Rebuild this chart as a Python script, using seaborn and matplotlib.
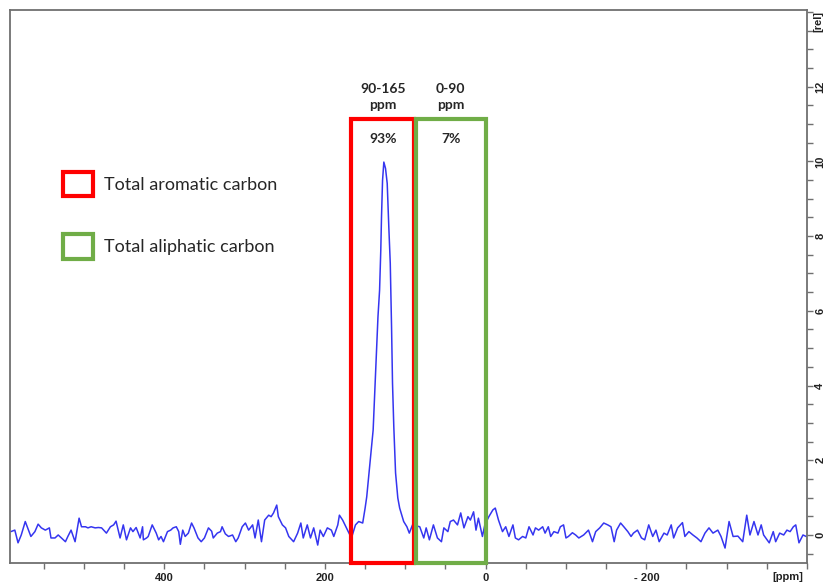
import numpy as np
import pandas as pd
import matplotlib
matplotlib.use('Agg')
import matplotlib.pyplot as plt
import seaborn as sns
from matplotlib.patches import Rectangle, Patch
from matplotlib.ticker import MultipleLocator

# 13C NMR spectrum (ppm, relative intensity)
ppm_left = [591, 586, 582, 578, 573, 569, 566, 561, 557, 553, 548, 543, 541, 536, 532, 528,
            523, 520, 516, 511, 506, 503, 498, 495, 491, 486, 482, 478, 472, 467, 463, 460,
            455, 451, 447, 442, 439, 435, 430, 427, 426, 422, 420, 415, 410, 407, 404, 401,
            396, 392, 389, 385, 382, 380, 377, 374, 370, 366, 363, 358, 354, 350, 345, 341,
            339, 334, 330, 328, 324, 320, 315, 311, 308, 303, 299, 295, 290, 287, 283, 279,
            275, 270, 267, 264, 260, 258, 253, 249, 245, 239, 234, 230, 227, 222, 218, 214,
            209, 206, 202, 197, 192, 189, 184, 182, 178, 174, 171, 167, 162, 158, 153]
int_left = [0.09, 0.13, -0.21, 0.00, 0.36, 0.13, -0.04, 0.09, 0.29, 0.19, 0.13, 0.19, -0.08, -0.08, 0.00, -0.08,
            -0.18, -0.04, 0.13, -0.18, 0.45, 0.22, 0.22, 0.19, 0.22, 0.19, 0.20, 0.19, 0.05, 0.22, 0.27, 0.37,
            -0.08, 0.27, -0.13, 0.19, 0.09, 0.20, -0.08, 0.22, -0.13, -0.08, -0.04, 0.27, 0.05, -0.13, -0.04, -0.18,
            0.09, 0.13, 0.19, 0.22, 0.09, -0.25, 0.13, -0.04, 0.05, 0.32, 0.19, -0.08, -0.18, -0.08, 0.19, 0.10,
            -0.08, 0.05, 0.09, 0.22, 0.03, -0.04, 0.00, -0.18, -0.08, 0.22, 0.32, 0.13, 0.27, -0.08, 0.40, -0.18,
            0.40, 0.53, 0.49, 0.59, 0.80, 0.49, 0.27, 0.19, -0.04, -0.18, 0.05, 0.32, -0.08, 0.27, -0.08, 0.19,
            -0.27, 0.13, -0.04, 0.19, 0.13, -0.04, 0.27, 0.53, 0.40, 0.22, 0.09, -0.08, 0.27, 0.36, 0.32]

ppm_peak = [150, 148, 144, 140, 138, 136, 134, 132, 130.5, 129.6, 128.3, 126.7,
            124.6, 122.5, 120.5, 118.7, 117.1, 115.9, 114.3, 112.1, 109.3, 107, 102, 98, 95, 91]
int_peak = [0.72, 1.02, 1.92, 2.81, 3.80, 4.77, 5.84, 6.55, 7.62, 8.51, 9.49, 9.98,
            9.81, 9.41, 8.24, 7.27, 5.57, 4.06, 2.90, 1.66, 0.99, 0.72, 0.36, 0.22, 0.05, 0.27]

ppm_right = [82, 77, 74, 70, 65, 60, 55, 52, 47, 44, 40, 35, 31, 27, 22, 19, 15, 12, 9, 4, 1,
             -4, -9, -12, -16, -21, -25, -29, -34, -37, -41, -46, -50, -54, -59, -62, -66, -71, -74,
             -78, -81, -85, -90, -93, -97, -100, -103, -108, -112, -116, -122, -128, -133, -137, -142,
             -147, -152, -156, -160, -163, -168, -172, -177, -181, -184, -189, -194, -198, -203, -208,
             -212, -216, -222, -226, -231, -234, -239, -245, -248, -253, -258, -263, -268, -273, -278,
             -283, -289, -293, -298, -303, -308, -314, -320, -325, -329, -334, -339, -343, -346, -353,
             -358, -361, -366, -371, -375, -379, -383, -386, -390, -395, -399]
int_right = [0.22, -0.08, 0.19, -0.13, 0.27, -0.08, -0.18, 0.19, 0.09, 0.36, 0.40, 0.27, 0.59, 0.19, 0.49, 0.40, 0.62, 0.13, 0.45, -0.04, 0.27,
             0.49, 0.67, 0.72, 0.40, 0.09, 0.22, -0.04, 0.27, -0.08, -0.13, -0.04, -0.08, 0.22, 0.00, 0.19, 0.13, 0.22, 0.05,
             0.22, -0.04, 0.09, 0.05, 0.22, 0.27, -0.08, -0.04, 0.06, 0.00, -0.08, 0.00, 0.13, -0.18, 0.09, 0.19,
             0.32, 0.27, 0.22, -0.18, 0.13, 0.32, 0.22, 0.09, -0.04, 0.05, 0.13, -0.08, -0.13, 0.27, -0.04,
             0.13, -0.18, 0.05, 0.00, 0.27, -0.08, 0.19, 0.33, -0.04, 0.09, 0.00, -0.08, -0.18, 0.05, 0.19,
             0.05, 0.13, -0.04, -0.35, 0.36, -0.04, -0.03, -0.18, 0.53, 0.00, 0.36, 0.00, 0.27, 0.00, -0.21,
             0.09, -0.18, 0.05, 0.00, 0.13, 0.09, 0.22, 0.27, -0.21, 0.00, -0.04]

# integration regions
region_labels = ['90-165\nppm', '0-90\nppm']
region_pct = ['93%', '7%']
region_lo = [89, 0]
region_hi = [167, 87]
region_colors = ['#FF0000', '#70AD47']
legend_labels = ['Total aromatic carbon', 'Total aliphatic carbon']

spec = pd.DataFrame({'ppm': ppm_left + ppm_peak + ppm_right,
                     'intensity': int_left + int_peak + int_right})

sns.set_style('white')
plt.rcParams['font.family'] = ['Liberation Sans', 'DejaVu Sans']

fig = plt.figure(figsize=(8.26, 5.85), dpi=100)
ax = fig.add_axes([10/826, 1-563/585, 797/826, 553/585])

sns.lineplot(data=spec, x='ppm', y='intensity', sort=False, color='#3535F0', lw=1.1, ax=ax)

ax.set_xlim(592, -400)
ax.set_ylim(-0.75, 14.05)

for lo, hi, c in zip(region_lo, region_hi, region_colors):
    ax.add_patch(Rectangle((lo, -0.75), hi - lo, 11.87, fill=False, edgecolor=c, lw=3, clip_on=False, zorder=3))

for lo, hi, lab, pct in zip(region_lo, region_hi, region_labels, region_pct):
    mid = (lo + hi) / 2
    ax.text(mid, 11.35, lab, ha='center', va='bottom', fontsize=10, fontweight='bold',
            family=['Lato', 'DejaVu Sans'], linespacing=1.4)
    ax.text(mid, 10.6, pct, ha='center', va='center', fontsize=10, fontweight='bold',
            family=['Lato', 'DejaVu Sans'])

handles = [Patch(facecolor='white', edgecolor=c, lw=3) for c in region_colors]
fig.legend(handles, legend_labels, loc='upper left', bbox_to_anchor=(63/826, 1-172/585),
           bbox_transform=fig.transFigure, frameon=False, borderpad=0, borderaxespad=0,
           handlelength=1.65, handleheight=1.7, handletextpad=0.6, labelspacing=2.1,
           prop={'family': 'Lato', 'size': 13})

# axes styling
for s in ax.spines.values():
    s.set_color('#707070')
    s.set_linewidth(1.3)
ax.set_xlabel('')
ax.set_ylabel('')
ax.xaxis.set_major_locator(MultipleLocator(200))
ax.xaxis.set_minor_locator(MultipleLocator(50))
ax.yaxis.set_major_locator(MultipleLocator(2))
ax.yaxis.set_minor_locator(MultipleLocator(0.5))
ax.yaxis.tick_right()
ax.tick_params(which='both', direction='out', length=4, width=1, color='#707070',
               bottom=True, right=True, left=False, top=False)
ax.tick_params(axis='x', labelsize=8, pad=3)
ax.tick_params(axis='y', labelsize=8, pad=2)
ax.set_xticks([400, 200, 0, -200])
ax.set_xticklabels(['400', '200', '0', '- 200'], fontweight='bold', color='#222222')
ax.set_yticks([0, 2, 4, 6, 8, 10, 12])
ax.set_yticklabels(['0', '2', '4', '6', '8', '10', '12'], rotation=90, va='center',
                   fontweight='bold', color='#222222')

fig.text(818/826, 1-22/585, '[rel]', rotation=90, ha='center', va='center', fontsize=8,
         fontweight='bold', color='#222222')
fig.text(788/826, 1-577/585, '[ppm]', ha='center', va='center', fontsize=8,
         fontweight='bold', color='#222222')

fig.savefig('out.png', dpi=100)
